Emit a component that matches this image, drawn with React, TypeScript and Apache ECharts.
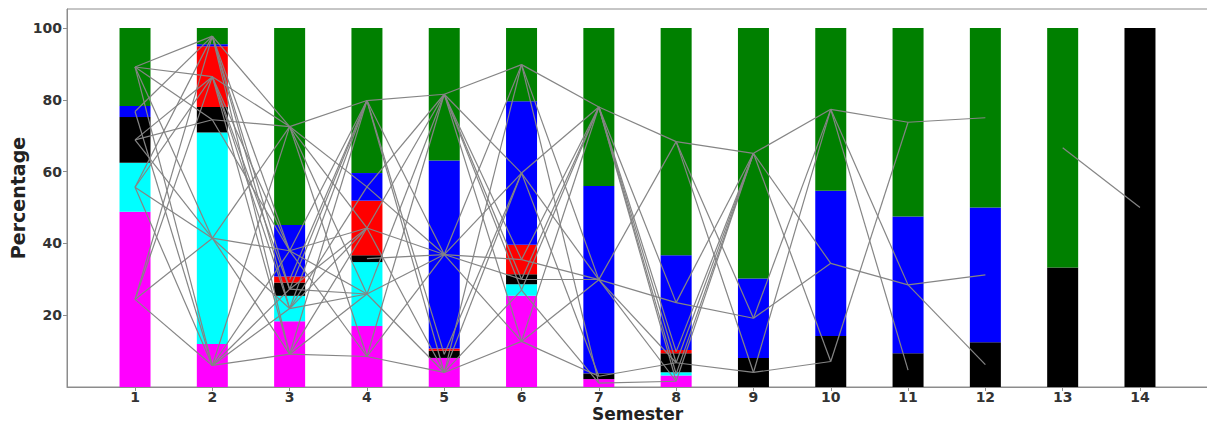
import React, { useEffect, useRef } from "react";
import * as echarts from "echarts";

// Semesters on the x axis
const semesters = [1, 2, 3, 4, 5, 6, 7, 8, 9, 10, 11, 12, 13, 14];

// Share of students (%) in each status per semester, stacked bottom to top
const magenta = [48.8, 12.0, 18.3, 17.0, 8.1, 25.4, 2.2, 3.2, 0, 0, 0, 0, 0, 0];
const cyan = [13.7, 58.9, 7.1, 17.8, 0, 3.2, 0, 0.9, 0, 0, 0, 0, 0, 0];
const black = [12.7, 7.1, 3.7, 1.9, 2.0, 2.8, 1.6, 5.3, 8.1, 14.2, 9.4, 12.5, 33.3, 100];
const red = [0, 16.9, 1.7, 15.2, 0.6, 8.2, 0, 0.9, 0, 0, 0, 0, 0, 0];
const blue = [3.1, 0.6, 14.3, 7.7, 52.4, 40.0, 52.2, 26.4, 22.1, 40.5, 38.1, 37.5, 0, 0];
const green = [21.7, 4.5, 54.9, 40.4, 36.9, 20.4, 44.0, 63.3, 69.8, 45.3, 52.5, 50.0, 66.7, 0];

const yTicks = [20, 40, 60, 80, 100];

// Observed status changes between semester t and t+1 (index 0 = 1 -> 2)
const transitions: string[][][] = [
  [["G", "G"], ["G", "R"], ["G", "K"], ["G", "C"], ["G", "M"], ["B", "G"], ["B", "M"], ["K", "R"], ["K", "K"], ["K", "C"], ["C", "G"], ["C", "R"], ["C", "C"], ["C", "M"], ["M", "G"], ["M", "R"], ["M", "C"], ["M", "M"]],
  [["G", "G"], ["G", "B"], ["G", "K"], ["G", "C"], ["G", "M"], ["R", "G"], ["R", "B"], ["R", "K"], ["R", "C"], ["R", "M"], ["K", "G"], ["K", "B"], ["C", "G"], ["C", "B"], ["C", "C"], ["C", "M"], ["M", "G"], ["M", "B"], ["M", "K"], ["M", "C"], ["M", "M"]],
  [["G", "G"], ["G", "B"], ["G", "R"], ["G", "C"], ["G", "M"], ["B", "G"], ["B", "R"], ["B", "C"], ["B", "M"], ["R", "G"], ["K", "G"], ["K", "R"], ["K", "C"], ["C", "G"], ["C", "B"], ["C", "R"], ["C", "C"], ["M", "G"], ["M", "R"], ["M", "C"], ["M", "M"]],
  [["G", "G"], ["G", "B"], ["G", "K"], ["G", "M"], ["B", "G"], ["B", "B"], ["R", "G"], ["R", "B"], ["R", "M"], ["K", "B"], ["C", "G"], ["C", "B"], ["C", "M"], ["M", "G"], ["M", "B"], ["M", "M"]],
  [["G", "G"], ["G", "B"], ["G", "R"], ["G", "K"], ["G", "C"], ["G", "M"], ["B", "G"], ["B", "B"], ["B", "R"], ["B", "K"], ["B", "M"], ["K", "B"], ["M", "G"], ["M", "B"], ["M", "C"], ["M", "M"]],
  [["G", "G"], ["G", "B"], ["G", "M"], ["B", "G"], ["B", "B"], ["B", "K"], ["R", "G"], ["R", "B"], ["K", "G"], ["K", "B"], ["C", "G"], ["C", "M"], ["M", "G"], ["M", "B"], ["M", "K"]],
  [["G", "G"], ["G", "B"], ["G", "R"], ["G", "K"], ["G", "C"], ["G", "M"], ["B", "G"], ["B", "B"], ["B", "K"], ["B", "M"], ["K", "K"], ["M", "M"]],
  [["G", "G"], ["G", "B"], ["G", "K"], ["B", "G"], ["B", "B"], ["R", "G"], ["K", "G"], ["K", "K"], ["C", "G"], ["M", "G"]],
  [["G", "G"], ["G", "B"], ["G", "K"], ["B", "G"], ["B", "B"], ["K", "G"], ["K", "K"]],
  [["G", "G"], ["G", "B"], ["G", "K"], ["B", "B"], ["K", "G"]],
  [["G", "G"], ["B", "B"], ["B", "K"]],
  [],
  [["G", "K"]],
];

const stackOrder = [
  { key: "M", values: magenta, color: "#ff00ff" },
  { key: "C", values: cyan, color: "#00ffff" },
  { key: "K", values: black, color: "#000000" },
  { key: "R", values: red, color: "#ff0000" },
  { key: "B", values: blue, color: "#0000ff" },
  { key: "G", values: green, color: "#008000" },
];

// Midpoint of each status segment within a semester's bar
function segmentMid(semIdx: number, key: string): number {
  let base = 0;
  for (const s of stackOrder) {
    const v = s.values[semIdx];
    if (s.key === key) return base + v / 2;
    base += v;
  }
  return 0;
}

const axisGrey = "#8c8c8c";
const textColor = "#222222";
const font = "DejaVu Sans";
const BAR_PX = 31;

export default function App() {
  const ref = useRef<HTMLDivElement>(null);

  useEffect(() => {
    if (!ref.current) return;
    const chart = echarts.init(ref.current, undefined, { renderer: "svg" });

    // Stacked segments: [semester, bottom, top, status index]
    const segments: number[][] = [];
    semesters.forEach((sem, i) => {
      let base = 0;
      stackOrder.forEach((s, k) => {
        const v = s.values[i];
        if (v > 0) segments.push([sem, base, base + v, k]);
        base += v;
      });
    });

    const flowData: any[] = [];
    transitions.forEach((pairs, t) => {
      pairs.forEach(([from, to]) => {
        flowData.push({
          coords: [
            [semesters[t], segmentMid(t, from)],
            [semesters[t + 1], segmentMid(t + 1, to)],
          ],
        });
      });
    });

    chart.setOption({
      animation: false,
      grid: {
        left: 67,
        right: -1,
        top: 9,
        bottom: 36,
        outerBoundsMode: "none",
        containLabel: false,
        show: true,
        borderColor: axisGrey,
        borderWidth: 1,
        backgroundColor: "transparent",
      },
      xAxis: {
        type: "value",
        min: 0.12,
        max: 14.88,
        name: "Semester",
        nameLocation: "middle",
        nameGap: 18,
        nameMoveOverlap: false,
        nameTextStyle: { fontFamily: font, fontSize: 17, lineHeight: 17, color: textColor, fontWeight: "bold" },
        splitLine: { show: false },
        axisLine: { lineStyle: { color: axisGrey } },
        axisTick: { show: true, length: 4, lineStyle: { color: axisGrey }, customValues: semesters },
        axisLabel: {
          customValues: semesters,
          margin: 3,
          fontFamily: font,
          fontSize: 14,
          lineHeight: 14,
          fontWeight: "bold",
          color: "#333333",
        },
      },
      yAxis: {
        type: "value",
        min: 0,
        max: 105.3,
        name: "Percentage",
        nameLocation: "middle",
        nameGap: 40,
        nameMoveOverlap: false,
        nameTextStyle: { fontFamily: font, fontSize: 19, color: textColor, fontWeight: "bold" },
        splitLine: { show: false },
        axisLine: { show: true, lineStyle: { color: axisGrey } },
        axisTick: { show: true, length: 4, lineStyle: { color: axisGrey }, customValues: yTicks },
        axisLabel: {
          customValues: yTicks,
          margin: 5,
          fontFamily: font,
          fontSize: 14,
          fontWeight: "bold",
          color: "#333333",
        },
      },
      series: [
        {
          type: "custom",
          z: 2,
          silent: true,
          encode: { x: 0, y: [1, 2] },
          data: segments,
          renderItem: (params: any, api: any) => {
            const x = api.value(0);
            const lo = api.coord([x, api.value(1)]);
            const hi = api.coord([x, api.value(2)]);
            const color = stackOrder[api.value(3)].color;
            return {
              type: "rect",
              shape: { x: lo[0] - BAR_PX / 2, y: hi[1], width: BAR_PX, height: lo[1] - hi[1] },
              style: { fill: color },
            };
          },
        },
        {
          type: "lines",
          coordinateSystem: "cartesian2d",
          polyline: false,
          silent: true,
          z: 5,
          lineStyle: { color: "#858585", width: 1.2, opacity: 1 },
          data: flowData,
        },
      ],
    });

    return () => chart.dispose();
  }, []);

  return (
    <div
      ref={ref}
      style={{ position: "fixed", left: 0, top: 0, width: 1207, height: 423, background: "#ffffff" }}
    />
  );
}
